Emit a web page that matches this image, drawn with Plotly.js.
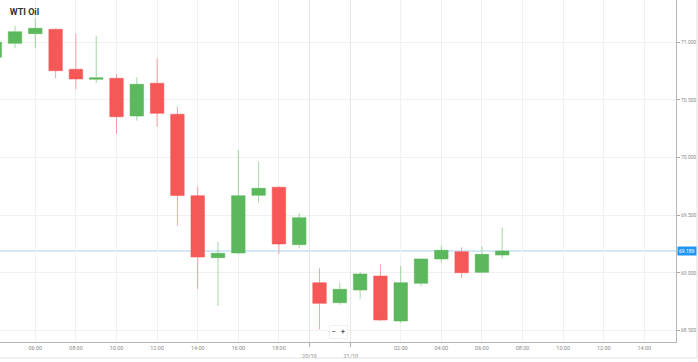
<!DOCTYPE html>
<html>
<head>
<meta charset="utf-8">
<script src="https://cdn.plot.ly/plotly-3.0.1.min.js"></script>
<style>html,body{margin:0;padding:0;background:#fff;}#chart{width:698px;height:362px;}</style>
</head>
<body>
<div id="chart"></div>
<script>
// Hourly WTI Oil candles (price)
const opens  = [70.870, 70.990, 71.074, 71.112, 70.765, 70.678, 70.687, 70.360, 70.644, 70.375, 69.669, 69.131, 69.172, 69.672, 69.742, 69.244, 68.914, 68.741, 68.851, 68.972, 68.582, 68.909, 69.120, 69.183, 69.004, 69.154];
const highs  = [71.010, 71.143, 71.213, 71.118, 71.077, 71.054, 70.724, 70.696, 70.860, 70.441, 69.748, 69.270, 70.065, 69.964, 69.750, 69.516, 69.039, 68.914, 69.004, 69.074, 69.059, 69.125, 69.235, 69.221, 69.232, 69.395];
const lows   = [70.860, 70.947, 70.947, 70.687, 70.594, 70.646, 70.204, 70.319, 70.267, 69.409, 68.860, 68.712, 69.163, 69.608, 69.163, 69.212, 68.510, 68.723, 68.770, 68.582, 68.567, 68.886, 69.088, 68.955, 69.003, 69.126];
const closes = [71.000, 71.091, 71.121, 70.753, 70.681, 70.692, 70.354, 70.635, 70.383, 69.670, 69.137, 69.169, 69.669, 69.733, 69.250, 69.478, 68.735, 68.857, 68.990, 68.591, 68.914, 69.120, 69.195, 69.001, 69.160, 69.189];

// Time-axis tick labels (candle slots)
const timeTickSlots = [2, 4, 6, 8, 10, 12, 14, 20, 22, 24, 26, 28, 30, 32];
const timeTickLabels = ["06:00", "08:00", "10:00", "12:00", "14:00", "16:00", "18:00", "02:00", "04:00", "06:00", "08:00", "10:00", "12:00", "14:00"];
const dateTickSlots = [15.5, 17.54];
const dateTickLabels = ["20/10", "21/10"];

const slots = closes.map((_, i) => i);
const lastPrice = closes[closes.length - 1];

const trace = {
  type: 'candlestick',
  x: slots, open: opens, high: highs, low: lows, close: closes,
  increasing: {line: {color: 'rgba(92,184,92,0.55)', width: 1}, fillcolor: '#5cb85c'},
  decreasing: {line: {color: 'rgba(246,88,88,0.55)', width: 1}, fillcolor: '#f65858'},
  whiskerwidth: 0,
  hoverinfo: 'none',
  showlegend: false
};
const dummy = {type: 'scatter', x: [], y: [], xaxis: 'x2', yaxis: 'y', showlegend: false, hoverinfo: 'none'};

const xr = [0.26, 33.56];
const layout = {
  width: 698, height: 362,
  margin: {l: 0, r: 22, t: 0, b: 20},
  paper_bgcolor: '#fff', plot_bgcolor: '#fff',
  showlegend: false,
  boxgap: 0.05,
  font: {family: 'Roboto, Arial, sans-serif'},
  title: {text: 'WTI Oil', x: 0.014, xanchor: 'left', y: 0.975, yanchor: 'top',
          font: {family: 'Roboto, Arial, sans-serif', size: 9, color: '#333', weight: 'bold'}},
  xaxis: {
    range: xr, rangeslider: {visible: false}, fixedrange: true,
    tickmode: 'array', tickvals: timeTickSlots, ticktext: timeTickLabels,
    showgrid: true, gridcolor: '#f1f1f1', gridwidth: 1,
    ticks: '', showline: true, linecolor: '#b5b5b5', linewidth: 1,
    zeroline: false,
    tickfont: {size: 5.5, color: '#8a8a8a'}
  },
  xaxis2: {
    overlaying: 'x', anchor: 'y', side: 'bottom', range: xr, fixedrange: true,
    tickmode: 'array', tickvals: dateTickSlots, ticktext: dateTickLabels,
    showgrid: true, gridcolor: '#e6e6e6', gridwidth: 1,
    ticks: 'outside', ticklen: 4, tickcolor: '#aaa', tickwidth: 1,
    ticklabelstandoff: 4,
    showline: false, zeroline: false,
    tickfont: {size: 5.5, color: '#8a8a8a'}
  },
  yaxis: {
    side: 'right', range: [68.400, 71.366], fixedrange: true,
    tickmode: 'linear', tick0: 68.5, dtick: 0.5, tickformat: '.3f',
    ticks: 'outside', ticklen: 3, tickcolor: '#aaa',
    showgrid: true, gridcolor: '#f1f1f1',
    showline: true, linecolor: '#b5b5b5', linewidth: 1,
    zeroline: false,
    tickfont: {size: 5, color: '#8a8a8a'}
  },
  shapes: [
    {type: 'line', xref: 'paper', yref: 'y', x0: 0, x1: 1, y0: lastPrice, y1: lastPrice,
     line: {color: '#a9d3f2', width: 1}, layer: 'below'},
    {type: 'line', xref: 'paper', yref: 'paper', x0: 1.0311, x1: 1.0311, y0: 1, y1: -0.0468,
     line: {color: '#e0e0e0', width: 1}},
    {type: 'line', xref: 'paper', yref: 'paper', x0: 0, x1: 1.0311, y0: -0.0468, y1: -0.0468,
     line: {color: '#e0e0e0', width: 1}}
  ],
  annotations: [
    {xref: 'paper', yref: 'y', x: 1, y: lastPrice, xanchor: 'left', yanchor: 'middle', xshift: 1,
     text: lastPrice.toFixed(3), showarrow: false, bgcolor: '#2196f3', borderpad: 1,
     font: {size: 5, color: '#fff'}},
    {xref: 'paper', yref: 'paper', x: 0.5, y: 0.03, xanchor: 'center', yanchor: 'middle',
     text: '<b>−</b>   <b>+</b>', showarrow: false, bgcolor: '#fff', bordercolor: '#f0f0f0', borderwidth: 1, borderpad: 2,
     font: {size: 7, color: '#555'}}
  ]
};

Plotly.newPlot('chart', [trace, dummy], layout, {displayModeBar: false, staticPlot: true});
</script>
</body>
</html>
